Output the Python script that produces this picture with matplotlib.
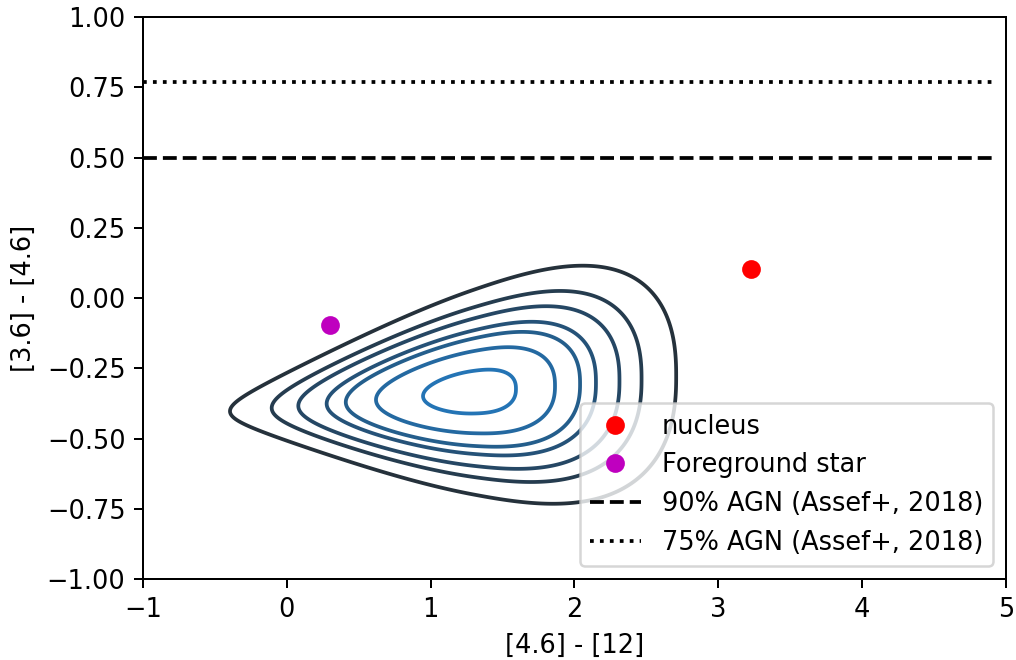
import matplotlib
matplotlib.use("Agg")
import matplotlib.pyplot as plt
from matplotlib.colors import LinearSegmentedColormap
import numpy as np

plt.rcParams['font.size'] = 10.25

# points
nucleus = (3.23, 0.105)
fg_star = (0.30, -0.095)

# AGN wedge lines (Assef+ 2018)
agn90_y = 0.50
agn75_y = 0.77
line_x = [-1, 4.93]

# contour extents (left tip of each level, x-units)
center_x = 1.30
level_left = [-0.395, -0.105, 0.08, 0.277, 0.41, 0.62, 0.947]

# shape of the density blob
sx_left, sx_right = 1.0, 0.83
yc0, yc_slope = -0.335, 0.04
sy0, sy_slope = 0.215, 0.08
p_right = 2.4

fig = plt.figure(figsize=(1016/180, 660/180), dpi=180)
ax = fig.add_axes([0.1407, 0.1227, 0.8495, 0.8515])

xx, yy = np.meshgrid(np.linspace(-1, 5, 700), np.linspace(-1, 1, 500))
u = xx - center_x
yc = yc0 + yc_slope * u
sy = np.clip(sy0 + sy_slope * u, 0.02, None)
a = np.abs(np.where(u < 0, u / sx_left, u / sx_right))
b = np.abs((yy - yc) / sy)
p = np.where(u < 0, 2.0, p_right)
r = (a ** p + b ** p) ** (1 / p)

levels = sorted([(center_x - v) / sx_left for v in level_left])
cmap = LinearSegmentedColormap.from_list("kde", ["#2474b5", "#25313b"])
cols = [cmap(i / (len(levels) - 1)) for i in range(len(levels))]
ax.contour(xx, yy, r, levels=levels, colors=cols, linewidths=1.5)

ax.plot(*nucleus, 'o', color='r', ls='none', ms=6.5, label='nucleus')
ax.plot(*fg_star, 'o', color='m', ls='none', ms=6.5, label='Foreground star')
ax.plot(line_x, [agn90_y, agn90_y], 'k--', lw=1.5, label='90% AGN (Assef+, 2018)')
ax.plot(line_x, [agn75_y, agn75_y], 'k:', lw=1.5, label='75% AGN (Assef+, 2018)')

ax.set_xlim(-1, 5)
ax.set_ylim(-1, 1)
ax.set_yticks(np.arange(-1, 1.01, 0.25))
ax.set_xlabel('[4.6] - [12]')
ax.set_ylabel('[3.6] - [4.6]')
ax.legend(loc='lower right')

plt.savefig('out.png', dpi=180)
